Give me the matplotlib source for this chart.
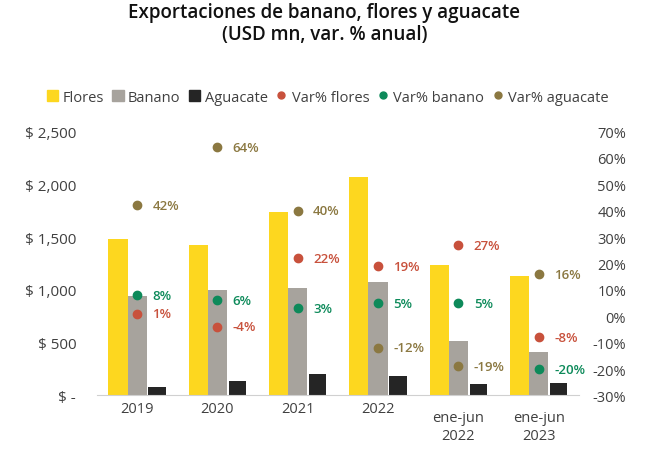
import numpy as np
import matplotlib
matplotlib.use("Agg")
import matplotlib.pyplot as plt
from matplotlib.lines import Line2D
from matplotlib.patches import Patch

plt.rcParams['font.family'] = ['Open Sans', 'DejaVu Sans']

# Datos
categorias = ["2019", "2020", "2021", "2022", "ene-jun\n2022", "ene-jun\n2023"]
flores = [1485, 1425, 1740, 2065, 1235, 1135]
banano = [945, 995, 1020, 1075, 520, 415]
aguacate = [80, 135, 200, 180, 105, 120]
var_flores = [1, -4, 22, 19, 27, -8]
var_banano = [8, 6, 3, 5, 5, -20]
var_aguacate = [42, 64, 40, -12, -19, 16]

ticks_usd = [0, 500, 1000, 1500, 2000, 2500]
labels_usd = ["$ -", "$ 500", "$ 1,000", "$ 1,500", "$ 2,000", "$ 2,500"]
ticks_pct = [-30, -20, -10, 0, 10, 20, 30, 40, 50, 60, 70]

# Colores
c_flores = "#FDD71F"
c_banano = "#A7A39D"
c_aguacate = "#252525"
c_vflores = "#C8513C"
c_vbanano = "#0D8A5A"
c_vaguacate = "#8B7841"
c_texto = "#404040"

fig = plt.figure(figsize=(6.49, 4.52), dpi=100)
ax = fig.add_axes([0.1495, 0.1228, 0.7425, 0.5841])

x = np.arange(len(categorias))
w = 0.24
ax.bar(x - w, flores, w, color=c_flores)
ax.bar(x, banano, w, color=c_banano)
ax.bar(x + w * 1.03, aguacate, w * 0.9, color=c_aguacate)

ax.set_xlim(-0.5, len(categorias) - 0.5)
ax.set_ylim(0, 2500)
ax.set_yticks(ticks_usd)
ax.set_yticklabels(labels_usd)
ax.set_xticks(x)
ax.set_xticklabels([])
ax.tick_params(axis='x', length=0)
ax.tick_params(axis='y', length=0, pad=15, labelsize=11, labelcolor=c_texto)
for s in ["top", "left", "right"]:
    ax.spines[s].set_visible(False)
ax.spines["bottom"].set_color("#D0D0D0")

# etiquetas del eje x (las de dos lineas van mas abajo)
for xi, cat in zip(x, categorias):
    dy = -22.3 if "\n" in cat else -9.7
    ax.annotate(cat, (xi, 0), xycoords=('data', 'axes fraction'), xytext=(0, dy),
                textcoords='offset points', ha='center', va='center', fontsize=10.5,
                color=c_texto, linespacing=1.3)

# Eje secundario con variaciones
ax2 = ax.twinx()
ax2.set_ylim(-30, 70)
ax2.set_yticks(ticks_pct)
ax2.set_yticklabels([f"{t}%" for t in ticks_pct])
ax2.tick_params(axis='y', length=0, pad=34, labelsize=10.5, labelcolor=c_texto)
for lab in ax2.get_yticklabels():
    lab.set_horizontalalignment('right')
for s in ax2.spines.values():
    s.set_visible(False)

for serie, color in [(var_flores, c_vflores), (var_banano, c_vbanano), (var_aguacate, c_vaguacate)]:
    ax2.plot(x, serie, linestyle='none', marker='o', markersize=6, color=color)
    for xi, v in zip(x, serie):
        ax2.annotate(f"{v}%", (xi, v), xytext=(11, 0), textcoords='offset points',
                     va='center', ha='left', fontsize=9.5, fontweight='semibold', color=color)

fig.text(0.5, 0.994, "Exportaciones de banano, flores y aguacate\n(USD mn, var. % anual)",
         ha='center', va='top', fontsize=13.5, fontweight='semibold', color="#111111",
         linespacing=1.15)

handles = [
    Patch(color=c_flores, label="Flores"),
    Patch(color=c_banano, label="Banano"),
    Patch(color=c_aguacate, label="Aguacate"),
    Line2D([], [], linestyle='none', marker='o', markersize=5, color=c_vflores, label="Var% flores"),
    Line2D([], [], linestyle='none', marker='o', markersize=5, color=c_vbanano, label="Var% banano"),
    Line2D([], [], linestyle='none', marker='o', markersize=5, color=c_vaguacate, label="Var% aguacate"),
]
fig.legend(handles=handles, loc='center', bbox_to_anchor=(0.505, 0.783), ncol=6, frameon=False,
           fontsize=10.5, handlelength=0.8, handleheight=0.8, handletextpad=0.3,
           columnspacing=0.55, labelcolor=c_texto)

fig.savefig("out.png", dpi=100, facecolor="white")
